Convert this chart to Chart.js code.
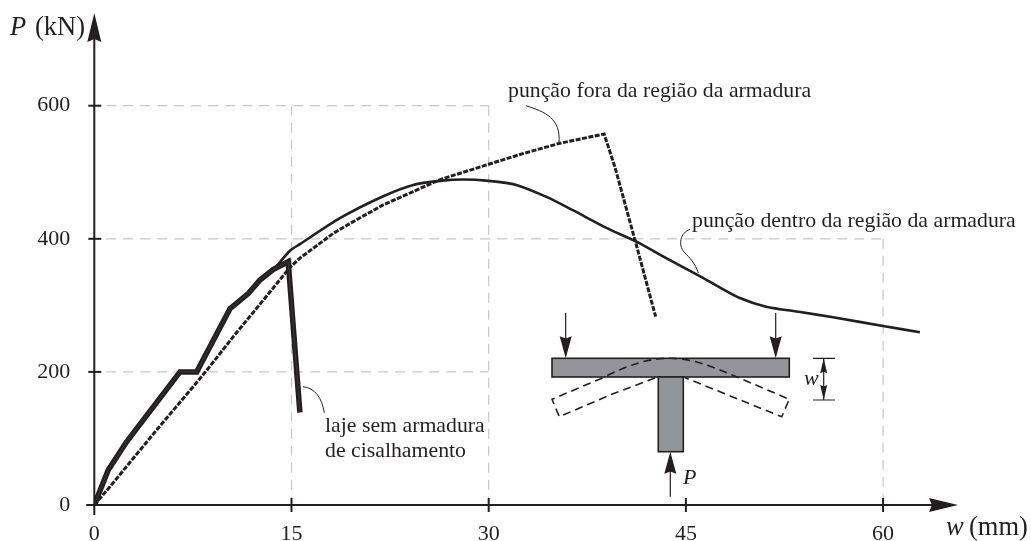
<!DOCTYPE html>
<html>
<head>
<meta charset="utf-8">
<title>P x w</title>
<script src="https://cdn.jsdelivr.net/npm/chart.js@4"></script>
<style>
  body { margin: 0; background: #fff; }
  canvas { display: block; }
</style>
</head>
<body>
<canvas id="chart1" width="1031" height="541"></canvas>
<script>
// values: w in mm, P in kN
const semArmaduraW = [0, 1.06, 2.46, 3.73, 6.52, 7.79, 10.32, 11.73, 12.6, 13.63, 14.75, 15.64];
const semArmaduraP = [0, 52.6, 95, 128, 200, 200, 295, 318, 338, 354, 365.6, 139];

const dentroW = [0, 1.06, 2.46, 3.73, 6.52, 7.79, 10.32, 11.73, 12.6, 13.63, 14.88, 15.64, 18.68, 21.98, 24.26, 26.3, 28.06, 30, 32.1, 34.4, 36.4, 39, 41.2, 43.5, 46.06, 47.3, 49.1, 51.1, 53.7, 56.2, 60, 62.8];
const dentroP = [0, 52.6, 95, 128, 200, 200, 295, 318, 338, 354, 382, 392, 431, 464, 481, 487, 489, 487, 481, 463, 443, 416, 396, 371, 344, 330, 311, 298, 290, 282, 269, 259.5];

const foraW = [0, 1.19, 4.74, 8.04, 9.18, 10.57, 13.11, 14.88, 15.64, 18.17, 19.44, 21.98, 24.26, 26.3, 30, 32.6, 35.4, 38.78, 39.6, 41.2, 42.7];
const foraP = [0, 27.5, 112.7, 190, 218, 253, 314, 357, 371, 408, 423, 451, 471, 489, 512, 528, 543.5, 557.5, 508, 393, 283];

// dashed guide lines: [tick value, how far it runs on the other axis]
const guidesH = [[600, 30], [400, 60], [200, 30]];
const guidesV = [[15, 600], [30, 600], [60, 400]];

const ink = "#231f20";
const serif = "'Liberation Serif', 'Times New Roman', serif";

function toPoints(xs, ys){
    return xs.map(function(x, i){ return {x: x, y: ys[i]}; });
}

function arrowHead(ctx, x, y, dx, dy, len, half){
    // tip at x,y, pointing along dx,dy
    ctx.beginPath();
    ctx.moveTo(x, y);
    ctx.lineTo(x - dx*len - dy*half, y - dy*len - dx*half);
    ctx.lineTo(x - dx*len*0.9, y - dy*len*0.9);
    ctx.lineTo(x - dx*len + dy*half, y - dy*len + dx*half);
    ctx.closePath();
    ctx.fill();
}

function label(ctx, text, x, y, size, italic){
    ctx.font = (italic ? "italic " : "") + size + "px " + serif;
    ctx.textAlign = "left";
    ctx.textBaseline = "alphabetic";
    ctx.fillText(text, x, y);
}

const guidesPlugin = {
    id: "guides",
    beforeDatasetsDraw: function(chart){
	const ctx = chart.ctx, xs = chart.scales.x, ys = chart.scales.y;
	ctx.save();
	ctx.strokeStyle = "#c6c7c8";
	ctx.lineWidth = 1.2;
	ctx.setLineDash([10, 7]);
	guidesH.forEach(function(g){
	    ctx.beginPath();
	    ctx.moveTo(xs.getPixelForValue(0.9), ys.getPixelForValue(g[0]));
	    ctx.lineTo(xs.getPixelForValue(g[1]), ys.getPixelForValue(g[0]));
	    ctx.stroke();
	});
	guidesV.forEach(function(g){
	    ctx.beginPath();
	    ctx.moveTo(xs.getPixelForValue(g[0]), ys.getPixelForValue(g[1]));
	    ctx.lineTo(xs.getPixelForValue(g[0]), ys.getPixelForValue(0));
	    ctx.stroke();
	});
	ctx.restore();
    }
};

const axesPlugin = {
    id: "axesDraw",
    afterDatasetsDraw: function(chart){
	const ctx = chart.ctx, xs = chart.scales.x, ys = chart.scales.y;
	const x0 = xs.getPixelForValue(0), y0 = ys.getPixelForValue(0);
	const a = chart.chartArea;
	ctx.save();
	ctx.strokeStyle = ink;
	ctx.fillStyle = ink;
	ctx.lineWidth = 2;
	ctx.beginPath();
	ctx.moveTo(x0, y0 + 10); ctx.lineTo(x0, a.top + 20);
	ctx.moveTo(x0 - 8, y0); ctx.lineTo(a.right - 20, y0);
	ctx.stroke();
	arrowHead(ctx, x0, a.top, 0, -1, 29, 7);
	arrowHead(ctx, a.right, y0, 1, 0, 29, 7);
	// ticks cross the axis
	xs.ticks.forEach(function(t){
	    if(t.value === 0) return;
	    const p = xs.getPixelForValue(t.value);
	    ctx.beginPath(); ctx.moveTo(p, y0 - 7); ctx.lineTo(p, y0 + 7); ctx.stroke();
	});
	ys.ticks.forEach(function(t){
	    if(t.value === 0) return;
	    const p = ys.getPixelForValue(t.value);
	    ctx.beginPath(); ctx.moveTo(x0 - 6, p); ctx.lineTo(x0 + 7, p); ctx.stroke();
	});
	label(ctx, "P", 10, 35, 26.5, true);
	label(ctx, "(kN)", 35, 35, 26.5, false);
	label(ctx, "w", 946, 535, 26.5, true);
	label(ctx, "(mm)", 969, 535, 26.5, false);

	label(ctx, "punção fora da região da armadura", 508, 97, 21.8);
	label(ctx, "punção dentro da região da armadura", 692, 227, 21.8);
	label(ctx, "laje sem armadura", 325, 432, 21.8);
	label(ctx, "de cisalhamento", 325, 457, 21.8);

	// leader lines
	ctx.lineWidth = 1;
	ctx.beginPath();
	ctx.moveTo(526, 105.7); ctx.bezierCurveTo(545, 112, 561, 118, 559, 143);
	ctx.moveTo(690, 229.3); ctx.bezierCurveTo(680, 233, 678, 245, 684, 252);
	ctx.bezierCurveTo(690, 258, 695, 263, 698.3, 273);
	ctx.moveTo(303, 386.7); ctx.bezierCurveTo(315, 388, 322, 398, 324.3, 412.7);
	ctx.stroke();
	ctx.restore();
	drawSection(ctx);
    }
};

// the small slab / column sketch
function drawSection(ctx){
    ctx.save();
    ctx.fillStyle = "#939598";
    ctx.strokeStyle = ink;
    ctx.lineWidth = 1.6;
    ctx.fillRect(552, 358.3, 237.3, 18.7);
    ctx.strokeRect(552, 358.3, 237.3, 18.7);
    ctx.fillRect(658.3, 377, 25, 74.7);
    ctx.strokeRect(658.3, 377, 25, 74.7);

    ctx.lineWidth = 1.6;
    ctx.setLineDash([8, 5]);
    ctx.beginPath();
    ctx.moveTo(655, 378); ctx.lineTo(610, 395); ctx.lineTo(559.3, 416.7); ctx.lineTo(552, 399.3);
    ctx.lineTo(603, 377.7);
    ctx.bezierCurveTo(630, 364, 650, 358, 670, 358.3);
    ctx.bezierCurveTo(695, 358.5, 715, 368, 737, 377);
    ctx.lineTo(789.3, 399.3); ctx.lineTo(781.7, 416.7); ctx.lineTo(685, 377.7);
    ctx.stroke();
    ctx.setLineDash([]);

    ctx.fillStyle = ink;
    ctx.lineWidth = 1.2;
    ctx.beginPath();
    ctx.moveTo(565.7, 313); ctx.lineTo(565.7, 345);
    ctx.moveTo(775.7, 313); ctx.lineTo(775.7, 345);
    ctx.moveTo(670.3, 470); ctx.lineTo(670.3, 496.7);
    ctx.moveTo(813, 358.3); ctx.lineTo(835, 358.3);
    ctx.moveTo(813, 400); ctx.lineTo(835, 400);
    ctx.moveTo(823.7, 358.3); ctx.lineTo(823.7, 400);
    ctx.stroke();
    arrowHead(ctx, 565.7, 358.3, 0, 1, 22, 6);
    arrowHead(ctx, 775.7, 358.3, 0, 1, 22, 6);
    arrowHead(ctx, 670.3, 451.7, 0, -1, 22, 6);
    arrowHead(ctx, 823.7, 358.3, 0, -1, 15, 3.5);
    arrowHead(ctx, 823.7, 400, 0, 1, 15, 3.5);
    label(ctx, "P", 683, 484, 22, true);
    label(ctx, "w", 804, 385, 22, true);
    ctx.restore();
}

new Chart(document.getElementById("chart1"), {
    type: "scatter",
    data: {
	datasets: [{
	    // faint centre line of the double stroke
	    label: "sem armadura centro",
	    data: toPoints(semArmaduraW, semArmaduraP),
	    showLine: true, borderColor: "#55504f", borderWidth: 0.5, pointRadius: 0
	},{
	    label: "sem armadura",
	    data: toPoints(semArmaduraW, semArmaduraP),
	    showLine: true, borderColor: ink, borderWidth: 5.5, pointRadius: 0, borderJoinStyle: "miter"
	},{
	    label: "fora",
	    data: toPoints(foraW, foraP),
	    showLine: true, borderColor: ink, borderWidth: 3, borderDash: [5, 1.5], pointRadius: 0
	},{
	    label: "dentro",
	    data: toPoints(dentroW, dentroP),
	    showLine: true, tension: 0.25, borderColor: ink, borderWidth: 2.6, pointRadius: 0
	}]
    },
    options: {
	responsive: false,
	animation: false,
	layout: { padding: { top: 13, right: 73, left: 0, bottom: 0 } },
	plugins: { legend: { display: false }, tooltip: { enabled: false } },
	scales: {
	    x: {
		type: "linear", min: 0, max: 65.7,
		grid: { display: false }, border: { display: false },
		afterFit: function(scale){ scale.height = 36; scale.paddingLeft = 0; scale.paddingRight = 0; },
		ticks: { stepSize: 15, includeBounds: false, maxRotation: 0, padding: 8, color: ink,
			 font: { family: serif, size: 22 } }
	    },
	    y: {
		type: "linear", min: 0, max: 739.3,
		grid: { display: false }, border: { display: false },
		afterFit: function(scale){ scale.width = 94.3; scale.paddingTop = 0; scale.paddingBottom = 0; },
		ticks: { stepSize: 200, includeBounds: false, padding: 16, color: ink,
			 font: { family: serif, size: 22 } }
	    }
	}
    },
    plugins: [guidesPlugin, axesPlugin]
});
</script>
</body>
</html>
